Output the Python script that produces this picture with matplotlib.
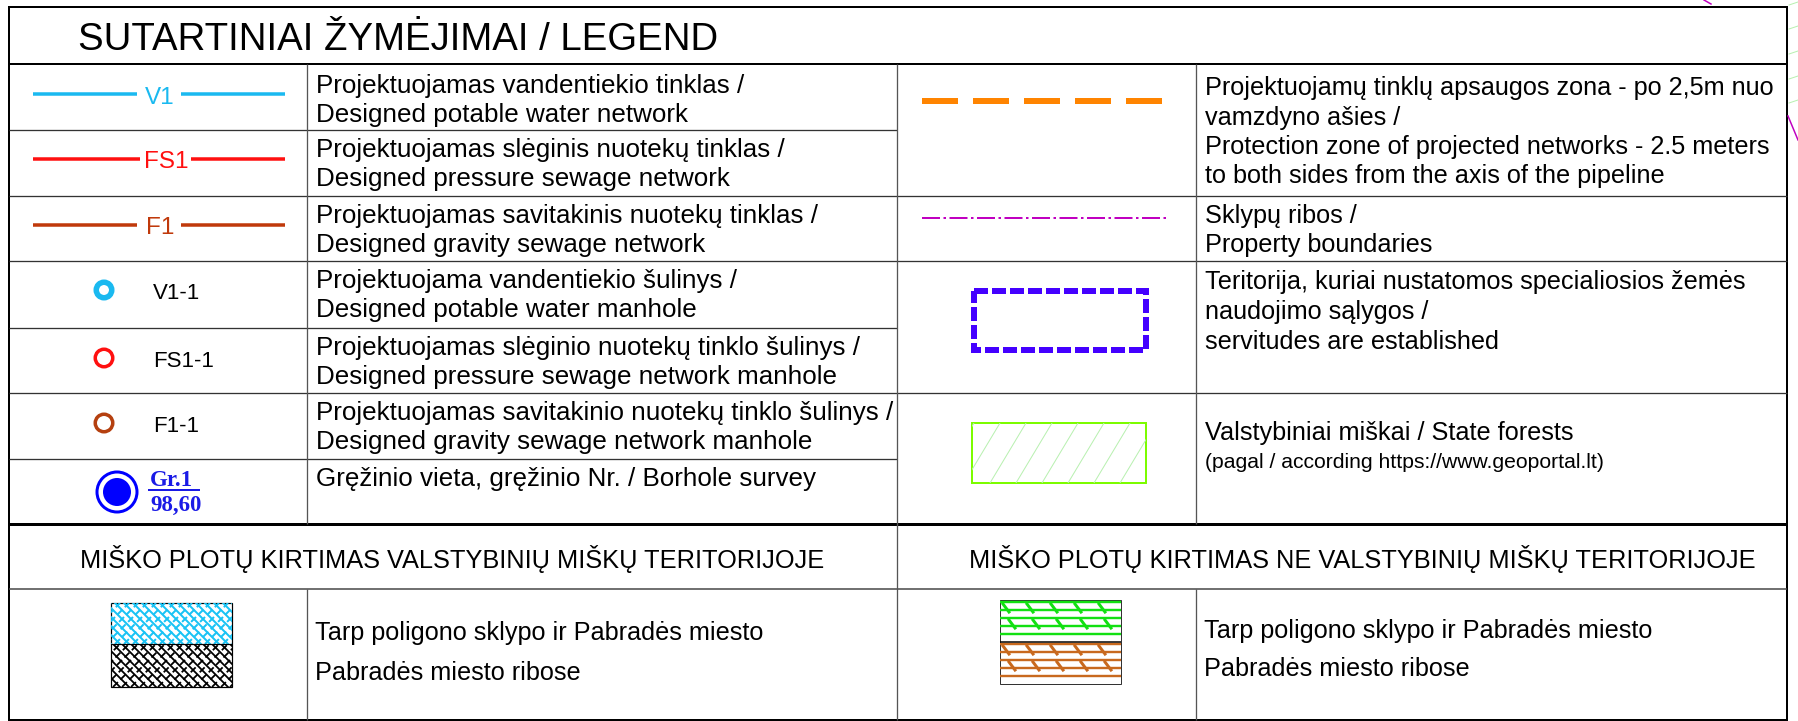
import matplotlib
matplotlib.use("Agg")
import matplotlib.pyplot as plt
from matplotlib.patches import Rectangle, Circle

plt.rcParams['font.family'] = ['Liberation Sans', 'DejaVu Sans']
plt.rcParams['lines.scale_dashes'] = False

# ---- texts of the legend ----
TITLE = "SUTARTINIAI ŽYMĖJIMAI / LEGEND"

LINE_LABELS = ["V1", "FS1", "F1"]
LINE_COLORS = ["#1AB9F0", "#FF1010", "#C0390B"]
LINE_TEXTS = [
    ["Projektuojamas vandentiekio tinklas /", "Designed potable water network"],
    ["Projektuojamas slėginis nuotekų tinklas /", "Designed pressure sewage network"],
    ["Projektuojamas savitakinis nuotekų tinklas /", "Designed gravity sewage network"],
]

WELL_LABELS = ["V1-1", "FS1-1", "F1-1"]
WELL_COLORS = ["#1AB9F0", "#FF1010", "#B5400F"]
WELL_RING = [5.5, 3.5, 3.5]
WELL_TEXTS = [
    ["Projektuojama vandentiekio šulinys /", "Designed potable water manhole"],
    ["Projektuojamas slėginio nuotekų tinklo šulinys /", "Designed pressure sewage network manhole"],
    ["Projektuojamas savitakinio nuotekų tinklo šulinys /", "Designed gravity sewage network manhole"],
]

BOREHOLE_NO = "Gr.1"
BOREHOLE_LEVEL = "98,60"
BOREHOLE_TEXT = "Gręžinio vieta, gręžinio Nr. / Borhole survey"

ZONE_TEXT = ["Projektuojamų tinklų apsaugos zona - po 2,5m nuo", "vamzdyno ašies /",
             "Protection zone of projected networks - 2.5 meters",
             "to both sides from the axis of the pipeline"]
BOUNDARY_TEXT = ["Sklypų ribos /", "Property boundaries"]
SERVITUDE_TEXT = ["Teritorija, kuriai nustatomos specialiosios žemės",
                  "naudojimo sąlygos /", "servitudes are established"]
FOREST_TEXT = "Valstybiniai miškai / State forests"
FOREST_NOTE = "(pagal / according https://www.geoportal.lt)"

CUT_HEADERS = ["MIŠKO PLOTŲ KIRTIMAS VALSTYBINIŲ MIŠKŲ TERITORIJOJE",
               "MIŠKO PLOTŲ KIRTIMAS NE VALSTYBINIŲ MIŠKŲ TERITORIJOJE"]
CUT_TEXTS = ["Tarp poligono sklypo ir Pabradės miesto", "Pabradės miesto ribose"]
CUT_STATE_COLORS = ["#19C3F5", "#000000"]
CUT_PRIVATE_COLORS = ["#12E012", "#C8691E"]

PX = 0.72  # pixel -> point at dpi 100
BODY = 18.2
BODY_LEFT = 18.7

fig = plt.figure(figsize=(17.98, 7.21), dpi=100)
ax = fig.add_axes([0, 0, 1, 1])
ax.set_xlim(0, 1798)
ax.set_ylim(721, 0)
ax.axis('off')


def hline(y, x0, x1, lw=1.3, c='#333333'):
    ax.plot([x0, x1], [y, y], color=c, lw=lw * PX, solid_capstyle='butt')


def vline(x, y0, y1, lw=1.3, c='#555555'):
    ax.plot([x, x], [y0, y1], color=c, lw=lw * PX, solid_capstyle='butt')


def hatch_lines(x0, y0, w, h, color, kind, lw=1.8):
    clip = Rectangle((x0, y0), w, h, transform=ax.transData)
    arts = []
    if kind == 'cross':
        step = 9
        k = -h
        while k < w + h:
            arts += ax.plot([x0 + k, x0 + k + h], [y0, y0 + h], color=color, lw=lw * PX)
            arts += ax.plot([x0 + k, x0 + k + h], [y0 + h, y0], color=color, lw=lw * PX,
                            ls=(0, (5, 2.5)))
            k += step
    elif kind == 'rail':
        yy = y0 + 2
        row = 0
        while yy < y0 + h:
            arts += ax.plot([x0, x0 + w], [yy, yy], color=color, lw=lw * PX)
            if row % 2 == 1:
                off = 6 if (row // 2) % 2 == 0 else 12
                xx = x0 + off
                while xx < x0 + w:
                    arts += ax.plot([xx - 3, xx + 3], [yy - 6, yy + 2], color=color, lw=3 * PX)
                    xx += 24
            yy += 8
            row += 1
    elif kind == 'forest':
        k = -h
        while k < w:
            arts += ax.plot([x0 + k, x0 + k + h * 0.6], [y0 + h, y0], color=color, lw=lw * PX)
            k += 26
    for a in arts:
        a.set_clip_path(clip)


# ---- table grid ----
L, R, T, B = 9, 1787, 7, 720
ax.add_patch(Rectangle((L, T), R - L, B - T, fill=False, ec='black', lw=2 * PX))
hline(64, L, R, lw=2, c='black')
for y in [130, 196, 261, 328, 393, 459]:
    hline(y, L, 897)
for y in [196, 261, 393]:
    hline(y, 897, R)
hline(524, L, R, lw=3, c='black')
hline(589, L, R, lw=1.5, c='#444444')
vline(307, 64, 524)
vline(307, 589, B)
vline(1196, 64, 524)
vline(1196, 589, B)
vline(897, 64, B)

ax.text(78, 50, TITLE, fontsize=27.6, va='baseline')

# ---- pipe lines ----
row_tops = [66, 130, 196]
line_ys = [94, 159, 225]
label_x = [160, 166, 160]
gaps = [(137, 181), (140, 191), (137, 181)]
for lab, col, txt, top, ly, lx, (g0, g1) in zip(LINE_LABELS, LINE_COLORS, LINE_TEXTS,
                                                row_tops, line_ys, label_x, gaps):
    ax.text(lx, ly + 9.5, lab, color=col, fontsize=17.5, ha='center', va='baseline')
    ax.plot([33, g0], [ly, ly], color=col, lw=3.5 * PX, solid_capstyle='butt')
    ax.plot([g1, 285], [ly, ly], color=col, lw=3.5 * PX, solid_capstyle='butt')
    ax.text(316, top + 27, txt[0], fontsize=BODY_LEFT, va='baseline')
    ax.text(316, top + 56, txt[1], fontsize=BODY_LEFT, va='baseline')

# ---- manholes ----
well_tops = [261, 328, 393]
well_ys = [290, 358, 423]
for lab, col, ring, txt, top, cy in zip(WELL_LABELS, WELL_COLORS, WELL_RING, WELL_TEXTS,
                                        well_tops, well_ys):
    ax.add_patch(Circle((104, cy), 10.5 - ring / 2, fill=False, ec=col, lw=ring * PX))
    ax.text(153, cy + 9, lab, fontsize=16, va='baseline')
    ax.text(316, top + 27, txt[0], fontsize=BODY_LEFT, va='baseline')
    ax.text(316, top + 56, txt[1], fontsize=BODY_LEFT, va='baseline')

# ---- borehole ----
ax.add_patch(Circle((117, 492), 20, fill=False, ec='#0000FF', lw=3 * PX))
ax.add_patch(Circle((117, 492), 14, fc='#0000FF', ec='none'))
ax.text(150, 486, BOREHOLE_NO, family='Liberation Serif', weight='bold', fontsize=16.5,
        color='#1A1AE6', va='baseline')
ax.plot([149, 199], [490, 490], color='#1A1AE6', lw=2 * PX)
ax.text(150, 511, BOREHOLE_LEVEL, family='Liberation Serif', weight='bold', fontsize=16.5,
        color='#1A1AE6', va='baseline')
ax.text(316, 486, BOREHOLE_TEXT, fontsize=BODY_LEFT, va='baseline')

# ---- right column symbols ----
ax.plot([922, 1167], [101, 101], color='#FF8400', lw=6 * PX, solid_capstyle='butt',
        ls=(0, (36 * PX, 15 * PX)))
for i, s in enumerate(ZONE_TEXT):
    ax.text(1205, 95 + 29.5 * i, s, fontsize=BODY, va='baseline')

ax.plot([922, 1167], [218, 218], color='#C000C0', lw=2 * PX, solid_capstyle='butt',
        ls=(0, (18 * PX, 3.5 * PX, 2.5 * PX, 3.5 * PX)))
for i, s in enumerate(BOUNDARY_TEXT):
    ax.text(1205, 223 + 29 * i, s, fontsize=BODY, va='baseline')

ax.add_patch(Rectangle((974, 291), 172, 59, fill=False, ec='#4400FF', lw=6 * PX,
                       ls=(0, (14 * PX, 4 * PX)), capstyle='butt'))
for i, s in enumerate(SERVITUDE_TEXT):
    ax.text(1205, 289 + 30 * i, s, fontsize=BODY, va='baseline')

hatch_lines(972, 423, 174, 60, '#B8F0B0', 'forest', lw=1)
ax.add_patch(Rectangle((972, 423), 174, 60, fill=False, ec='#7CFC00', lw=2 * PX))
ax.text(1205, 440, FOREST_TEXT, fontsize=BODY, va='baseline')
ax.text(1205, 468, FOREST_NOTE, fontsize=15.2, va='baseline')

# ---- forest cutting section ----
ax.text(452, 568, CUT_HEADERS[0], fontsize=18.3, ha='center', va='baseline')
ax.text(1362, 568, CUT_HEADERS[1], fontsize=18.3, ha='center', va='baseline')

hatch_lines(111, 603, 121, 41, CUT_STATE_COLORS[0], 'cross', lw=2)
hatch_lines(111, 644, 121, 43, CUT_STATE_COLORS[1], 'cross')
ax.add_patch(Rectangle((111, 603), 121, 84, fill=False, ec='black', lw=1.2 * PX))
hline(644, 111, 232, lw=1.2, c='black')

hatch_lines(1000, 600, 121, 42, CUT_PRIVATE_COLORS[0], 'rail', lw=2.4)
hatch_lines(1000, 642, 121, 42, CUT_PRIVATE_COLORS[1], 'rail', lw=2.4)
ax.add_patch(Rectangle((1000, 600), 121, 84, fill=False, ec='#333333', lw=1 * PX))
hline(642, 1000, 1121, lw=1.5, c='black')

for i, s in enumerate(CUT_TEXTS):
    ax.text(315, 640 + 40 * i, s, fontsize=BODY, va='baseline')
    ax.text(1204, 638 + 38 * i, s, fontsize=BODY, va='baseline')

# ---- map fragments outside the frame ----
ax.plot([1704, 1711], [0, 4], color='#C000C0', lw=1.5 * PX)
ax.plot([1788, 1798], [116, 140], color='#C000C0', lw=1.5 * PX)
for y in [2, 26, 51, 76, 100]:
    ax.plot([1789, 1798], [y + 3, y], color='#B8F0B0', lw=1 * PX)

fig.savefig("out.png", dpi=100)
